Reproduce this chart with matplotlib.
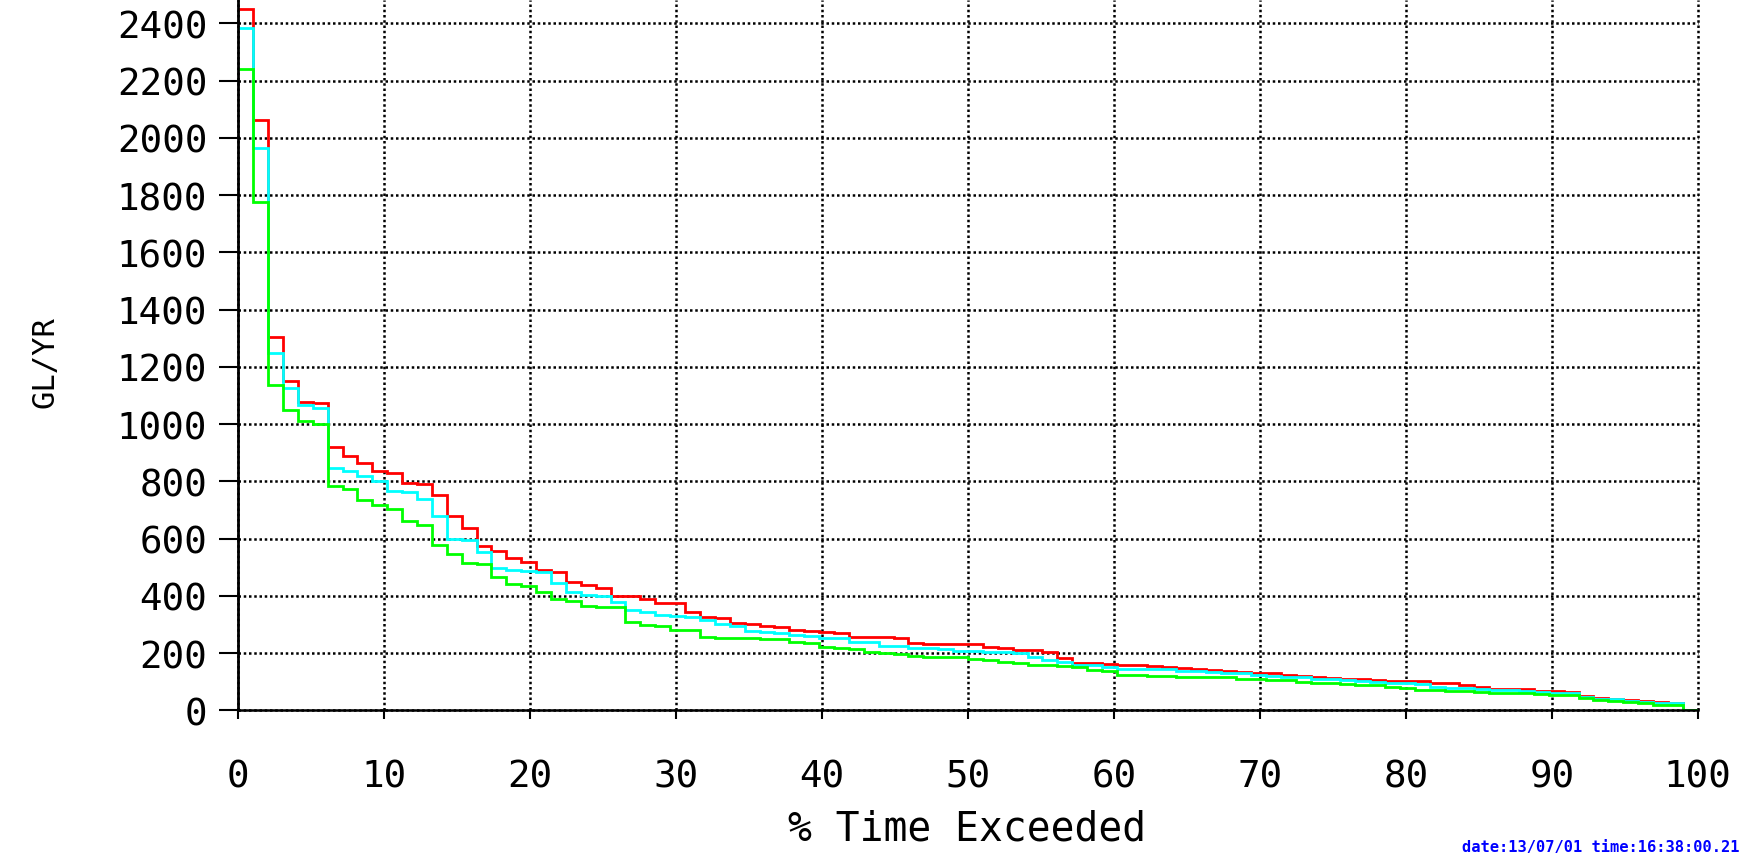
import matplotlib
matplotlib.use('Agg')
import matplotlib.pyplot as plt
import numpy as np

# Flow-duration values (GL/YR) for each ranked step, last value closes at 0
red = [2450, 2061, 1304, 1150, 1076, 1072, 921, 889, 864, 836,
       828, 795, 792, 752, 680, 636, 573, 556, 531, 519,
       490, 482, 447, 438, 428, 401, 399, 388, 376, 374,
       342, 326, 324, 305, 303, 293, 291, 280, 276, 274,
       270, 257, 256, 255, 254, 234, 233, 232, 231, 230,
       220, 217, 211, 210, 205, 183, 165, 164, 162, 160,
       159, 154, 151, 148, 145, 141, 136, 133, 132, 130,
       124, 120, 117, 113, 110, 110, 105, 102, 102, 101,
       94, 94, 88, 82, 75, 75, 74, 67, 66, 63,
       51, 44, 40, 37, 31, 28, 26, 0]

cyan = [2382, 1964, 1249, 1127, 1067, 1057, 846, 836, 817, 801,
        765, 762, 739, 680, 600, 596, 552, 498, 491, 487,
        482, 445, 412, 404, 399, 379, 350, 344, 334, 330,
        325, 317, 301, 293, 276, 275, 269, 263, 261, 253,
        251, 238, 237, 224, 223, 217, 216, 215, 208, 207,
        203, 202, 199, 187, 176, 169, 159, 158, 152, 144,
        144, 143, 143, 136, 136, 135, 130, 129, 124, 119,
        118, 115, 109, 108, 105, 104, 100, 95, 94, 92,
        80, 79, 77, 76, 71, 71, 68, 63, 62, 59,
        48, 39, 38, 34, 30, 26, 25, 0]

green = [2241, 1777, 1136, 1049, 1010, 1000, 782, 773, 735, 716,
         703, 660, 648, 579, 545, 516, 510, 466, 441, 433,
         414, 389, 381, 363, 362, 360, 307, 299, 293, 282,
         281, 255, 254, 253, 252, 249, 248, 240, 234, 222,
         217, 214, 205, 200, 197, 191, 187, 187, 186, 179,
         176, 170, 165, 158, 157, 154, 150, 141, 138, 123,
         122, 121, 120, 117, 117, 116, 115, 109, 108, 106,
         105, 100, 95, 94, 93, 88, 87, 82, 77, 71,
         70, 68, 66, 63, 60, 60, 60, 56, 55, 53,
         44, 35, 34, 30, 24, 20, 19, 0]

x_ticks = list(range(0, 101, 10))
y_ticks = list(range(0, 2401, 200))
x_label = "% Time Exceeded"
y_label = "GL/YR"
stamp = "date:13/07/01 time:16:38:00.21"

W, H = 1747, 854
fig = plt.figure(figsize=(W / 100, H / 100), dpi=100)
left, right, bottom_px = 238.3, 1697.7, 711.3
ymax = 2480
ax_h = ymax * 0.28625
ax = fig.add_axes([left / W, 1 - bottom_px / H, (right - left) / W, ax_h / H])

n = len(red) - 1
edges = np.append(np.arange(n + 1) * 100 / (n + 1), 100)

for vals, col in [(red, '#ff0000'), (cyan, '#00ffff'), (green, '#00ff00')]:
    ax.stairs(vals, edges, baseline=None, color=col, lw=2.0)

ax.set_xlim(0, 100)
ax.set_ylim(0, ymax)
ax.set_xticks(x_ticks)
ax.set_yticks(y_ticks)
ax.set_xticklabels([str(t) for t in x_ticks])
ax.set_yticklabels([str(t) for t in y_ticks])

mono = 'DejaVu Sans Mono'
for lab in ax.get_xticklabels() + ax.get_yticklabels():
    lab.set_family(mono)

ax.spines['top'].set_visible(False)
ax.spines['right'].set_visible(False)
ax.spines['left'].set_linewidth(2.0)
ax.spines['bottom'].set_linewidth(1.8)
ax.tick_params(axis='y', length=13.7, width=1.5, pad=8.6, labelsize=27, direction='out')
ax.tick_params(axis='x', length=6.5, width=1.5, pad=28, labelsize=27, direction='out')

ax.set_axisbelow(True)
ax.grid(True, color='black', linestyle=(0, (1, 1.1)), lw=1.8)
for gl in ax.get_xgridlines() + ax.get_ygridlines():
    gl.set_clip_on(False)

fig.text(967 / W, 1 - 830 / H, x_label, ha='center', va='center',
         fontsize=28.5, family=mono)
fig.text(45 / W, 1 - 362 / H, y_label, ha='center', va='center',
         fontsize=22, family=mono, rotation=90)
fig.text(1462 / W, 1 - 852 / H, stamp, ha='left', va='baseline',
         fontsize=11.1, family=mono, fontweight='bold', color='#0000ff')

fig.savefig('out.png', dpi=100)
